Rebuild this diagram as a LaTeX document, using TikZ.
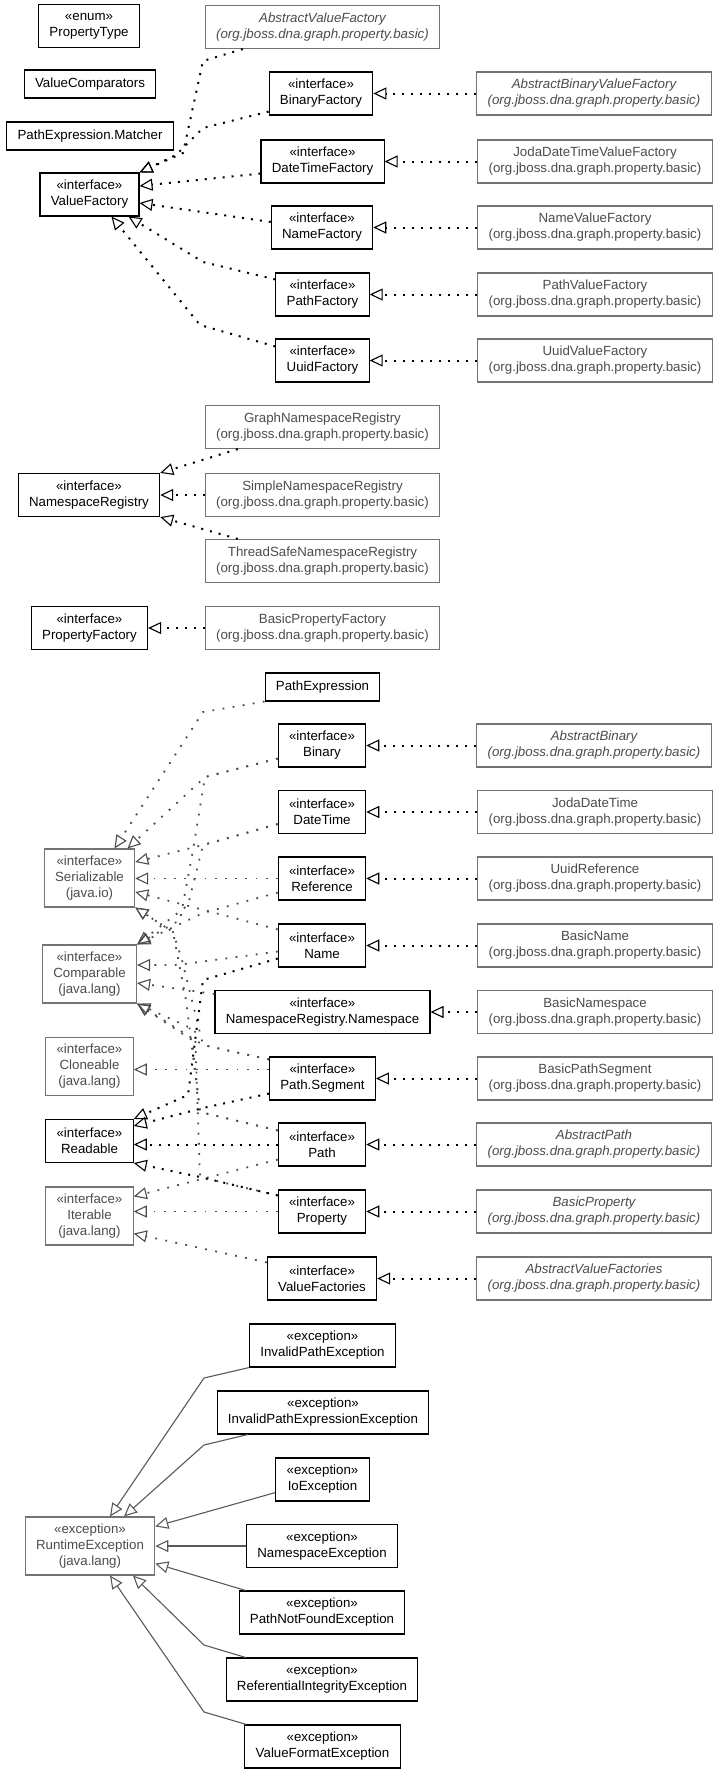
\documentclass[tikz,border=0pt]{standalone}
\usepackage{fontspec}
\setmainfont{Liberation Sans}
\usetikzlibrary{arrows.meta, positioning, calc}

\begin{document}
\begin{tikzpicture}[
    x=0.5pt, y=-0.5pt,
    font=\fontsize{6.65pt}{8pt}\selectfont,
    cls/.style={draw, line width=0.55pt, align=center, inner xsep=5.4pt, inner ysep=0pt, minimum height=21.5pt, fill=white},
    one/.style={minimum height=14pt},
    three/.style={minimum height=29pt},
    ext/.style={cls, draw=black!55, text=black!70},
    abs/.style={ext, font=\fontsize{6.65pt}{8pt}\selectfont\itshape},
    dep/.style={-{Triangle[open, length=6.5pt, width=6pt, line width=0.55pt 0]}, line width=1pt, dash pattern=on 1pt off 3.5pt},
    extdep/.style={dep, draw=black!70, line width=0.9pt, dash pattern=on 0.9pt off 4.2pt},
    gen/.style={-{Triangle[open, length=6.5pt, width=6pt]}, line width=0.55pt, draw=black!65}
]
\useasboundingbox (0,0) rectangle (717,1772);

% value factories
\node[cls] (ptype) at (89,26) {«enum»\\PropertyType};
\node[abs] (avf) at (322.5,27) {AbstractValueFactory\\(org.jboss.dna.graph.property.basic)};
\node[cls, one] (vcmp) at (90,84) {ValueComparators};
\node[cls] (bf) at (321,93.5) {«interface»\\BinaryFactory};
\node[abs] (abvf) at (594,93.5) {AbstractBinaryValueFactory\\(org.jboss.dna.graph.property.basic)};
\node[cls, one] (pem) at (90,136) {PathExpression.Matcher};
\node[cls] (dtf) at (322.5,161.5) {«interface»\\DateTimeFactory};
\node[ext] (jdtvf) at (595,161.5) {JodaDateTimeValueFactory\\(org.jboss.dna.graph.property.basic)};
\node[cls] (vf) at (89.5,194.5) {«interface»\\ValueFactory};
\node[cls] (nf) at (322,227.5) {«interface»\\NameFactory};
\node[ext] (nvf) at (595,227.5) {NameValueFactory\\(org.jboss.dna.graph.property.basic)};
\node[cls] (pf) at (322.5,294.5) {«interface»\\PathFactory};
\node[ext] (pvf) at (595,294.5) {PathValueFactory\\(org.jboss.dna.graph.property.basic)};
\node[cls] (uf) at (322.5,360.5) {«interface»\\UuidFactory};
\node[ext] (uvf) at (595,360.5) {UuidValueFactory\\(org.jboss.dna.graph.property.basic)};

% namespace registry, property factory
\node[ext] (gnr) at (322.5,427) {GraphNamespaceRegistry\\(org.jboss.dna.graph.property.basic)};
\node[cls] (nr) at (89,495) {«interface»\\NamespaceRegistry};
\node[ext] (snr) at (322.5,495) {SimpleNamespaceRegistry\\(org.jboss.dna.graph.property.basic)};
\node[ext] (tsn) at (322.5,561) {ThreadSafeNamespaceRegistry\\(org.jboss.dna.graph.property.basic)};
\node[cls] (pfac) at (89.5,628) {«interface»\\PropertyFactory};
\node[ext] (bpf) at (322.5,628) {BasicPropertyFactory\\(org.jboss.dna.graph.property.basic)};

% values
\node[cls, one] (pe) at (322.5,687) {PathExpression};
\node[cls] (bin) at (322,745.5) {«interface»\\Binary};
\node[abs] (abin) at (594,745.5) {AbstractBinary\\(org.jboss.dna.graph.property.basic)};
\node[cls] (dt) at (322,812) {«interface»\\DateTime};
\node[ext] (jdt) at (595,812) {JodaDateTime\\(org.jboss.dna.graph.property.basic)};
\node[ext, three] (ser) at (89.5,878) {«interface»\\Serializable\\(java.io)};
\node[cls] (ref) at (322,878.5) {«interface»\\Reference};
\node[ext] (uref) at (595,878.5) {UuidReference\\(org.jboss.dna.graph.property.basic)};
\node[cls] (nm) at (322,945.5) {«interface»\\Name};
\node[ext] (bname) at (595,945.5) {BasicName\\(org.jboss.dna.graph.property.basic)};
\node[ext, three] (cmp) at (89.5,974) {«interface»\\Comparable\\(java.lang)};
\node[cls] (ns) at (322.5,1012) {«interface»\\NamespaceRegistry.Namespace};
\node[ext] (bns) at (595,1012) {BasicNamespace\\(org.jboss.dna.graph.property.basic)};
\node[ext, three] (cln) at (89.5,1066.5) {«interface»\\Cloneable\\(java.lang)};
\node[cls] (ps) at (322.5,1078.5) {«interface»\\Path.Segment};
\node[ext] (bps) at (595,1078.5) {BasicPathSegment\\(org.jboss.dna.graph.property.basic)};
\node[cls] (rd) at (89.5,1141) {«interface»\\Readable};
\node[cls] (pa) at (322,1144.5) {«interface»\\Path};
\node[abs] (apath) at (594,1144.5) {AbstractPath\\(org.jboss.dna.graph.property.basic)};
\node[ext, three] (itr) at (89.5,1216) {«interface»\\Iterable\\(java.lang)};
\node[cls] (pr) at (322,1211.5) {«interface»\\Property};
\node[abs] (bprop) at (594,1211.5) {BasicProperty\\(org.jboss.dna.graph.property.basic)};
\node[cls] (vfs) at (322,1278.5) {«interface»\\ValueFactories};
\node[abs] (avfs) at (594,1278.5) {AbstractValueFactories\\(org.jboss.dna.graph.property.basic)};

% exceptions
\node[cls] (ipe) at (322.5,1345.5) {«exception»\\InvalidPathException};
\node[cls] (ipee) at (323,1412.5) {«exception»\\InvalidPathExpressionException};
\node[cls] (ioe) at (322.5,1479.5) {«exception»\\IoException};
\node[ext, three] (rt) at (90,1546) {«exception»\\RuntimeException\\(java.lang)};
\node[cls] (nse) at (322,1546) {«exception»\\NamespaceException};
\node[cls] (pnf) at (322,1612.5) {«exception»\\PathNotFoundException};
\node[cls] (rie) at (322,1679.5) {«exception»\\ReferentialIntegrityException};
\node[cls] (vfe) at (322.5,1746.5) {«exception»\\ValueFormatException};

% implementations on the right
\foreach \a/\b in {abvf/bf, jdtvf/dtf, nvf/nf, pvf/pf, uvf/uf, bpf/pfac, abin/bin, jdt/dt,
                   uref/ref, bname/nm, bns/ns, bps/ps, apath/pa, bprop/pr, avfs/vfs}
    \draw[dep] (\a) -- (\b);

% into ValueFactory
\draw[dep] ($(avf.south west)+(38,0)$) -- (203,61) -- (183,153) -- (vf.north east);
\draw[dep] ($(bf.south west)+(0,-4)$) -- (203,128) -- (176,155) -- (vf.north east);
\draw[dep] ($(dtf.south west)+(0,-10)$) -- ($(vf.east)+(0,-8.5)$);
\draw[dep] ($(nf.west)+(0,-5.5)$) -- ($(vf.east)+(0,8.5)$);
\draw[dep] ($(pf.north west)+(0,7)$) -- (203,262) -- ($(vf.south east)+(-11,0)$);
\draw[dep] ($(uf.north west)+(0,8)$) -- (200,325) -- ($(vf.south)+(22,0)$);

% into NamespaceRegistry
\draw[dep] ($(gnr.south west)+(33,0)$) -- (nr.north east);
\draw[dep] (snr) -- (nr);
\draw[dep] ($(tsn.north west)+(33,0)$) -- (nr.south east);

% into Serializable, Comparable, Cloneable
\draw[extdep] (pe.south west) -- (203,712) -- ($(ser.north)+(25,0)$);
\draw[extdep] ($(bin.south west)+(0,-9)$) -- (205,777) -- ($(ser.north)+(38,0)$);
\draw[extdep] ($(bin.south west)+(0,-9)$) -- (205,777) -- (193,850) -- (180,920) -- (cmp.north east);
\draw[extdep] ($(dt.south west)+(0,-10)$) -- (203,845) -- ($(ser.east)+(0,-16)$);
\draw[extdep] ($(dt.south west)+(0,-10)$) -- (203,845) -- (188,905) -- (cmp.north east);
\draw[extdep] (ref.west) -- (ref.west -| ser.east);
\draw[extdep] ($(ref.south west)+(0,-8)$) -- (203,913) -- (cmp.north east);
\draw[extdep] ($(nm.north west)+(0,6)$) -- ($(ser.east)+(0,14)$);
\draw[extdep] ($(nm.west)+(0,6)$) -- (177,965) -- ($(cmp.east)+(0,-9)$);
\draw[extdep] ($(ns.north west)+(0,4)$) -- ($(cmp.east)+(0,9)$);
\draw[extdep] ($(ps.north west)+(0,3)$) -- (203,1045) -- (cmp.south east);
\draw[extdep] ($(ps.north west)+(0,3)$) -- (203,1045) -- (182,960) -- (173,932) -- (ser.south east);
\draw[extdep] ($(ps.west)+(0,-9)$) -- ($(cln.east)+(0,3)$);
\draw[extdep] ($(pa.north west)+(0,8)$) -- (200,1112) -- (186,1000) -- (173,932) -- (ser.south east);
\draw[extdep] ($(pa.north west)+(0,8)$) -- (200,1112) -- (192,1040) -- (cmp.south east);
\draw[extdep] ($(pr.north west)+(0,6)$) -- (200,1177) -- (195,1030) -- (cmp.south east);

% into Readable
\draw[dep] ($(nm.south west)+(0,-9)$) -- (203,980) -- (188,1095) -- (rd.north east);
\draw[dep] ($(ps.south west)+(0,-7)$) -- (203,1108) -- ($(rd.north east)+(0,7)$);
\draw[dep] (pa.west) -- (pa.west -| rd.east);
\draw[dep] ($(pr.north west)+(0,6)$) -- (200,1177) -- (rd.south east);

% into Iterable
\draw[extdep] ($(pa.south west)+(0,-7)$) -- ($(itr.north east)+(0,10)$);
\draw[extdep] (pr.west) -- (pr.west -| itr.east);
\draw[extdep] ($(vfs.north west)+(0,6)$) -- ($(itr.south east)+(0,-12)$);

% exceptions
\draw[gen] (ipe.south west) -- (204,1378) -- ($(rt.north)+(20,0)$);
\draw[gen] ($(ipee.south west)+(31,0)$) -- (204,1445) -- ($(rt.north)+(34,0)$);
\draw[gen] ($(ioe.south west)+(0,-9)$) -- ($(rt.north east)+(0,10)$);
\draw[gen] (nse.west) -- (nse.west -| rt.east);
\draw[gen] ($(pnf.north west)+(7,0)$) -- ($(rt.south east)+(0,-12)$);
\draw[gen] ($(rie.north west)+(20,0)$) -- (204,1645) -- ($(rt.south)+(43,0)$);
\draw[gen] ($(vfe.north west)+(2,0)$) -- (204,1712) -- ($(rt.south)+(20,0)$);
\end{tikzpicture}
\end{document}
